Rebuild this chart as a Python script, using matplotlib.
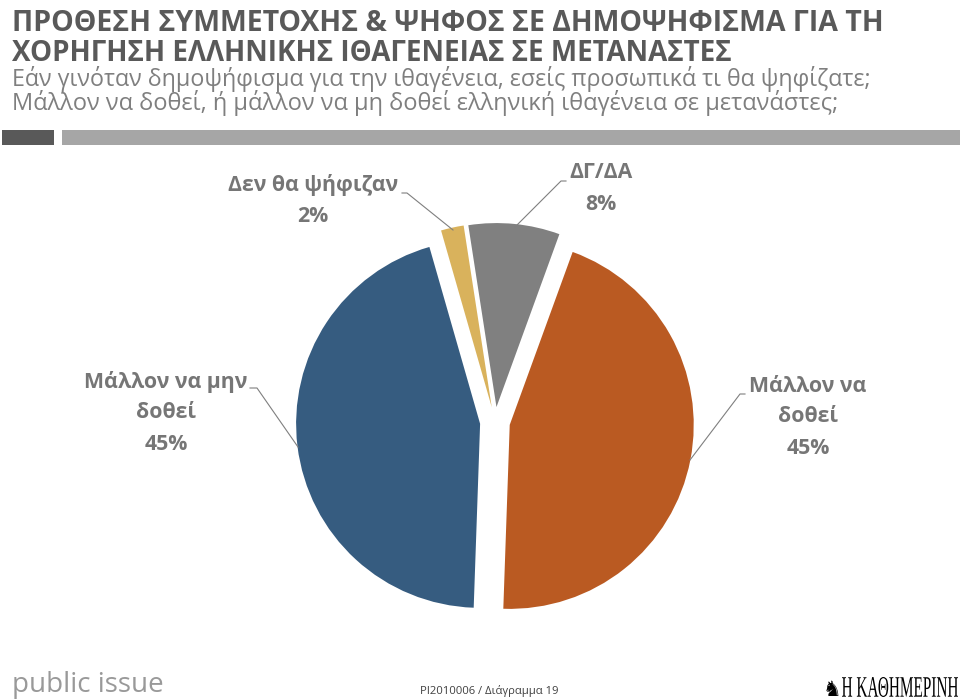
import matplotlib
matplotlib.use('Agg')
import matplotlib.pyplot as plt
from matplotlib.patches import Rectangle, PathPatch
from matplotlib.textpath import TextPath
from matplotlib.font_manager import FontProperties
from matplotlib.transforms import Affine2D

W, H = 960, 700

TITLE = ['ΠΡΟΘΕΣΗ ΣΥΜΜΕΤΟΧΗΣ & ΨΗΦΟΣ ΣΕ ΔΗΜΟΨΗΦΙΣΜΑ ΓΙΑ ΤΗ',
         'ΧΟΡΗΓΗΣΗ ΕΛΛΗΝΙΚΗΣ ΙΘΑΓΕΝΕΙΑΣ ΣΕ ΜΕΤΑΝΑΣΤΕΣ']
SUBTITLE = ['Εάν γινόταν δημοψήφισμα για την ιθαγένεια, εσείς προσωπικά τι θα ψηφίζατε;',
            'Μάλλον να δοθεί, ή μάλλον να μη δοθεί ελληνική ιθαγένεια σε μετανάστες;']

# slices, clockwise starting just right of 12 o'clock
categories = ['Μάλλον να\nδοθεί', 'Μάλλον να μην\nδοθεί', 'Δεν θα ψήφιζαν', 'ΔΓ/ΔΑ']
values = [45, 45, 2, 8]
colors = ['#BA5A22', '#365C80', '#D9B25C', '#808080']

# label anchor (pixels, top-left origin), leader line points
label_pos = [(808, 386), (166, 382), (313, 185), (601, 173)]
leaders = [[(745, 394), (740, 394), (690, 460)],
           [(250, 388), (257, 388), (298, 447)],
           [(402, 193), (407, 193), (453, 230)],
           [(566, 181), (561, 181), (515, 227)]]

TEXT_GRAY = '#767676'
FONT = ['Open Sans', 'DejaVu Sans']

fig = plt.figure(figsize=(W / 100, H / 100), dpi=100)
ax = fig.add_axes([0, 0, 1, 1])


def fy(y):
    # pixel row (from top) -> data y
    return H - y


def fit(t, width):
    # shrink/grow a text so it spans the given pixel width
    r = fig.canvas.get_renderer()
    w = t.get_window_extent(r).width
    t.set_fontsize(t.get_fontsize() * width / w)


ax.pie(values, colors=colors, startangle=70, counterclock=False,
       explode=[15] * len(values), radius=184, center=(495, fy(422)),
       frame=True, wedgeprops=dict(linewidth=0))

for lab, val, (x, y) in zip(categories, values, label_pos):
    lines = lab.split('\n') + [f'{val}%']
    for i, s in enumerate(lines):
        ax.text(x, fy(y + 31 * i), s, ha='center', va='center', fontsize=15.3,
                fontweight='bold', color=TEXT_GRAY, family=FONT)

for pts in leaders:
    ax.plot([p[0] for p in pts], [fy(p[1]) for p in pts], color='#7f7f7f', lw=0.8)

# header
for s, y, w in zip(TITLE, [31, 61], [873, 718]):
    t = ax.text(12, fy(y), s, ha='left', va='baseline', fontsize=20,
                fontweight='bold', color='#595959', family=FONT)
    fit(t, w)
for s, y, w in zip(SUBTITLE, [86, 110], [860, 826]):
    t = ax.text(12, fy(y), s, ha='left', va='baseline', fontsize=17,
                color='#7f7f7f', family=FONT)
    fit(t, w)

ax.add_patch(Rectangle((2, fy(145)), 52, 15, color='#595959', lw=0))
ax.add_patch(Rectangle((62, fy(145)), 898, 15, color='#a6a6a6', lw=0))

# footer
t = ax.text(12, fy(692), 'public issue', ha='left', va='baseline', fontsize=16,
            color='#999999', family=FONT)
fit(t, 152)
t = ax.text(420, fy(694), 'PI2010006 / Διάγραμμα 19', ha='left', va='baseline',
            fontsize=8.5, color='#404040', family=FONT)
fit(t, 138)

ax.text(832, fy(696), '♞', ha='center', va='baseline', fontsize=15,
        color='black', family='DejaVu Sans')
tp = TextPath((0, 0), 'Η ΚΑΘΗΜΕΡΙΝΗ', size=1,
              prop=FontProperties(family='Liberation Serif'))
bb = tp.get_extents()
sx = 116 / bb.width
sy = 20 / bb.height
tp = tp.transformed(Affine2D().translate(-bb.x0, -bb.y0).scale(sx, sy).translate(842, fy(697)))
ax.add_patch(PathPatch(tp, color='black', lw=0))

ax.set_xlim(0, W)
ax.set_ylim(0, H)
ax.set_aspect('equal')
ax.axis('off')

fig.savefig('out.png', dpi=100)
